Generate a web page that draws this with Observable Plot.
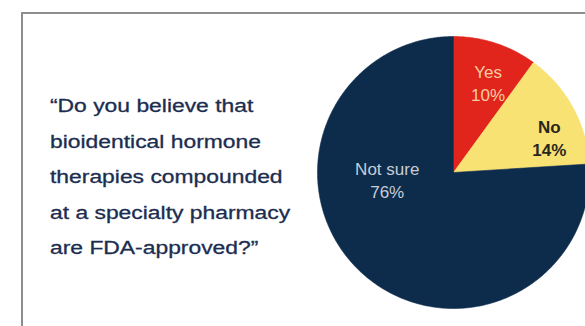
<!DOCTYPE html>
<html>
<head>
<meta charset="utf-8">
<script src="https://cdn.jsdelivr.net/npm/d3@7"></script>
<script src="https://cdn.jsdelivr.net/npm/@observablehq/plot@0.6"></script>
<style>
  html, body { margin: 0; padding: 0; background: #fff; overflow: hidden; }
  body { width: 585px; height: 326px; position: relative; font-family: "Liberation Sans", Arial, sans-serif; }
  #panel {
    position: absolute; left: 21px; top: 12px; width: 570px; height: 320px;
    border-left: 2px solid #8d8d8d; border-top: 2px solid #8d8d8d;
  }
  #question {
    position: absolute; left: 50px; top: 89px; margin: 0;
    font-size: 18px; line-height: 35.5px; color: #1c2d50;
    -webkit-text-stroke: 0.3px #1c2d50;
    transform: scaleX(1.27); transform-origin: 0 0; white-space: nowrap;
  }
  #chart { position: absolute; left: 0; top: 0; }
  #chart svg { overflow: hidden; }
</style>
</head>
<body>
<div id="panel"><div id="chart"></div></div>
<p id="question">“Do you believe that<br>bioidentical hormone<br>therapies compounded<br>at a specialty pharmacy<br>are FDA-approved?”</p>
<script>
// Survey answers and their shares (percent)
const answers = ["Yes", "No", "Not sure"];
const shares = [10, 14, 76];
const sliceColors = ["#e1251d", "#f8e274", "#0d2c4c"];

// Where each slice label sits: angle in degrees clockwise from 12 o'clock, radius as a fraction
const labelPlacement = {
  "Yes": {angle: 21, radius: 0.71, fill: "#f7cda0", weight: "normal"},
  "No": {angle: 70, radius: 0.75, fill: "#2a281c", weight: "bold"},
  "Not sure": {angle: 264, radius: 0.49, fill: "#c7ccd6", weight: "normal"}
};

// Pie geometry inside the panel (pixels)
const cx = 430, cy = 158, r = 136;

// Turn each slice into a closed polygon in unit-circle coordinates
const arcs = d3.pie().sort(null)(shares);
const wedges = [];
arcs.forEach((a, i) => {
  const answer = answers[i];
  wedges.push({answer, x: 0, y: 0});
  const steps = Math.max(2, Math.ceil((a.endAngle - a.startAngle) / (Math.PI / 360)));
  for (let k = 0; k <= steps; ++k) {
    const t = a.startAngle + (a.endAngle - a.startAngle) * k / steps;
    wedges.push({answer, x: Math.sin(t), y: Math.cos(t)});
  }
  wedges.push({answer, x: 0, y: 0});
});

const labels = answers.map((answer, i) => {
  const p = labelPlacement[answer];
  const t = p.angle * Math.PI / 180;
  return {answer, text: `${answer}\n${shares[i]}%`, x: p.radius * Math.sin(t), y: p.radius * Math.cos(t), ...p};
});

const labelMark = (d) => Plot.text([d], {
  x: "x", y: "y", text: "text",
  fill: d.fill, fontWeight: d.weight, fontSize: 17, lineHeight: 1.35,
  fontFamily: "Liberation Sans, Arial, sans-serif"
});

const chart = Plot.plot({
  width: 570,
  height: 314,
  margin: 0,
  x: {domain: [-1, 1], range: [cx - r, cx + r], axis: null},
  y: {domain: [-1, 1], range: [cy + r, cy - r], axis: null},
  color: {domain: answers, range: sliceColors},
  marks: [
    Plot.line(wedges, {x: "x", y: "y", z: "answer", fill: "answer", stroke: "answer", strokeWidth: 0.6, curve: "linear"}),
    ...labels.map(labelMark)
  ]
});
document.getElementById("chart").append(chart);
</script>
</body>
</html>
